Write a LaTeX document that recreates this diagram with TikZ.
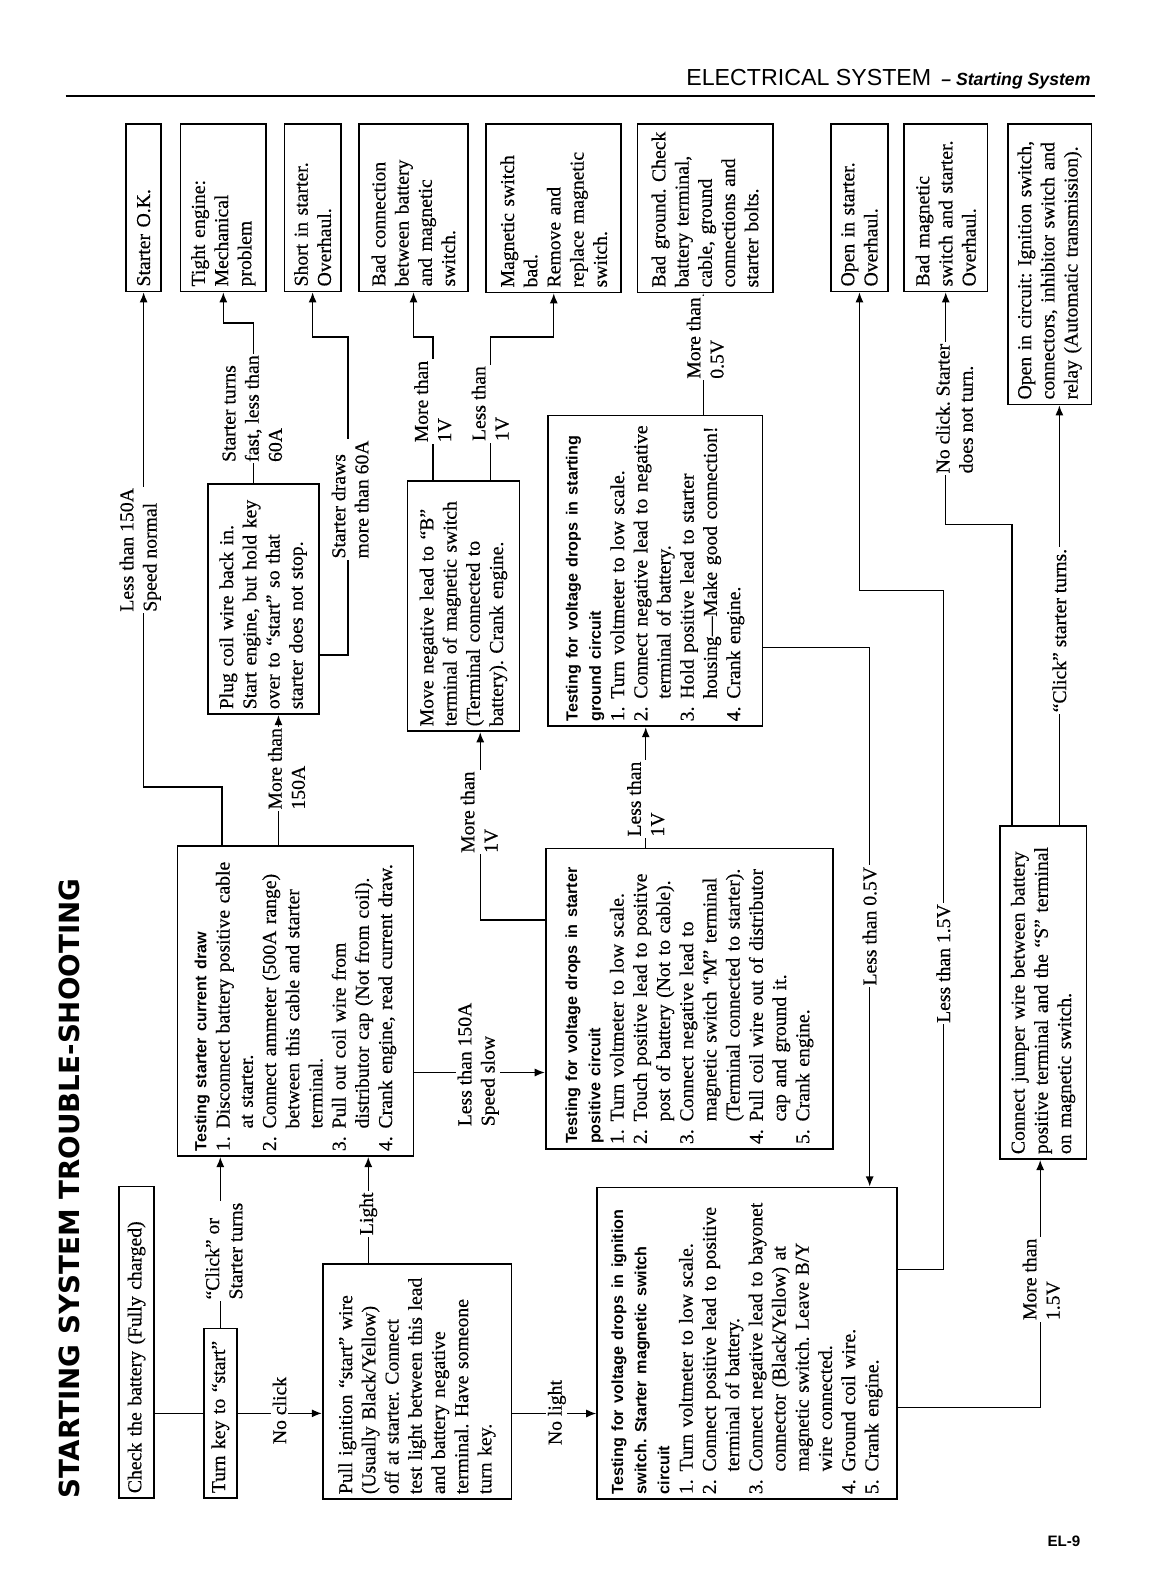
\documentclass[tikz,border=0pt]{standalone}
\usepackage{fontspec}
\setmainfont{Liberation Serif}[FakeBold=0.4]
\setsansfont{Liberation Sans}
\newfontfamily\titlefont{DejaVu Sans}
\usetikzlibrary{arrows.meta}

\newcommand\bodyfont{\frenchspacing\fontsize{19.5}{23}\selectfont}
\newcommand\headfont{\sffamily\bfseries\fontsize{16}{23}\selectfont}
\newcommand\itm[1]{\makebox[1.15em][l]{#1}}
\newcommand\indline{\hspace*{1.15em}}

\begin{document}
\begin{tikzpicture}[
  x=1pt, y=-1pt,
  box/.style={draw, line width=1.7pt, rotate=90, anchor=north east, align=left,
    inner xsep=5pt, inner ysep=2pt, font=\bodyfont},
  lbl/.style={rotate=90, fill=white, align=left, inner sep=1.5pt, font=\bodyfont},
  wire/.style={line width=1.4pt},
  arrow/.style={wire, -{Latex[length=10pt,width=8pt]}}
]
\useasboundingbox (0,0) rectangle (1152,1568);
\fill[white] (0,0) rectangle (1152,1568);

% page heading
\node[anchor=base west, inner sep=0pt, font=\sffamily\fontsize{23}{23}\selectfont] (header) at (680,85)
  {ELECTRICAL SYSTEM\hspace{10pt}{\bfseries\itshape\fontsize{17.5}{17.5}\selectfont -- Starting System}};
\draw[line width=2.5pt] (65,95) -- (1085,95);
\node[rotate=90, anchor=base west, inner sep=0pt, font=\titlefont\bfseries\fontsize{27.5}{27.5}\selectfont] (title) at (79,1485)
  {STARTING SYSTEM TROUBLE-SHOOTING};
\node[anchor=base east, inner sep=0pt, font=\sffamily\bfseries\fontsize{15}{15}\selectfont] (pageno) at (1071,1533) {EL-9};

% test steps
\node[box, text width=299pt, minimum height=35pt] (check) at (117,1175) {Check the battery (Fully charged)};
\node[box, text width=158pt, minimum height=33pt] (turnkey) at (201,1316) {Turn key to “start”};
\node[box, text width=297pt, minimum height=234pt] (current) at (175,838)
  {{\headfont Testing starter current draw}\\
   \itm{1.}Disconnect battery positive cable\\
   \indline at starter.\\
   \itm{2.}Connect ammeter (500A range)\\
   \indline between this cable and starter\\
   \indline terminal.\\
   \itm{3.}Pull out coil wire from\\
   \indline distributor cap (Not from coil).\\
   \itm{4.}Crank engine, read current draw.};
\node[box, text width=223pt, minimum height=187pt] (ignition) at (319,1252)
  {Pull ignition “start” wire\\
   (Usually Black/Yellow)\\
   off at starter. Connect\\
   test light between this lead\\
   and battery negative\\
   terminal. Have someone\\
   turn key.};
\node[box, text width=288pt, minimum height=285pt] (positive) at (540,840)
  {{\headfont Testing for voltage drops in starter}\\
   {\headfont positive circuit}\\
   \itm{1.}Turn voltmeter to low scale.\\
   \itm{2.}Touch positive lead to positive\\
   \indline post of battery (Not to cable).\\
   \itm{3.}Connect negative lead to\\
   \indline magnetic switch “M” terminal\\
   \indline (Terminal connected to starter).\\
   \itm{4.}Pull coil wire out of distributor\\
   \indline cap and ground it.\\
   \itm{5.}Crank engine.};
\node[box, text width=299pt, minimum height=297pt] (ignsw) at (591,1176)
  {{\headfont Testing for voltage drops in ignition}\\
   {\headfont switch. Starter magnetic switch}\\
   {\headfont circuit}\\
   \itm{1.}Turn voltmeter to low scale.\\
   \itm{2.}Connect positive lead to positive\\
   \indline terminal of battery.\\
   \itm{3.}Connect negative lead to bayonet\\
   \indline connector (Black/Yellow) at\\
   \indline magnetic switch. Leave B/Y\\
   \indline wire connected.\\
   \itm{4.}Ground coil wire.\\
   \itm{5.}Crank engine.};
\node[box, text width=298pt, minimum height=213pt] (ground) at (542,411)
  {{\headfont Testing for voltage drops in starting}\\
   {\headfont ground circuit}\\
   \itm{1.}Turn voltmeter to low scale.\\
   \itm{2.}Connect negative lead to negative\\
   \indline terminal of battery.\\
   \itm{3.}Hold positive lead to starter\\
   \indline housing---Make good connection!\\
   \itm{4.}Crank engine.};
\node[box, text width=320pt, minimum height=86pt] (jumper) at (990,818)
  {Connect jumper wire between battery\\
   positive terminal and the “S” terminal\\
   on magnetic switch.};
\node[box, text width=218pt, minimum height=110pt] (plug) at (205,479)
  {Plug coil wire back in.\\
   Start engine, but hold key\\
   over to “start” so that\\
   starter does not stop.};
\node[box, text width=238pt, minimum height=111pt] (moveneg) at (403,476)
  {Move negative lead to “B”\\
   terminal of magnetic switch\\
   (Terminal connected to\\
   battery). Crank engine.};

% results
\node[box, text width=156pt, minimum height=35pt] (ok) at (124,122) {Starter O.K.};
\node[box, text width=156pt, minimum height=85pt] (tight) at (178,122) {Tight engine:\\ Mechanical\\ problem};
\node[box, text width=156pt, minimum height=56pt] (short) at (281,122) {Short in starter.\\ Overhaul.};
\node[box, text width=156pt, minimum height=108pt] (badconn) at (355,122)
  {Bad connection\\ between battery\\ and magnetic\\ switch.};
\node[box, text width=157pt, minimum height=134pt] (magsw) at (481,122)
  {Magnetic switch\\ bad.\\ Remove and\\ replace magnetic\\ switch.};
\node[box, text width=157pt, minimum height=134pt] (badgnd) at (631,122)
  {Bad ground. Check\\ battery terminal,\\ cable, ground\\ connections and\\ starter bolts.};
\node[box, text width=156pt, minimum height=56pt] (openst) at (823,122) {Open in starter.\\ Overhaul.};
\node[box, text width=156pt, minimum height=83pt] (badmag) at (895,122)
  {Bad magnetic\\ switch and starter.\\ Overhaul.};
\node[box, text width=268pt, minimum height=83pt] (opencirc) at (998,122)
  {Open in circuit: Ignition switch,\\ connectors, inhibitor switch and\\ relay (Automatic transmission).};

% connectors
\draw[wire] (turnkey.north -| check.south) -- (turnkey.north);
\draw[arrow] (turnkey.south) -- (turnkey.south -| ignition.north);
\draw[arrow] (turnkey.east) -- (turnkey.east |- current.west);
\draw[arrow] (ignition.east -| 365,0) -- (current.west -| 365,0);
\draw[arrow] (ignition.south |- 0,1401) -- (ignsw.north |- 0,1401);
\draw[arrow] (current.east -| 220,0) -- (220,780) -| (ok.west);
\draw[arrow] (current.east -| 276,0) -- (plug.west -| 276,0);
\draw[arrow] (current.south |- 0,1063) -- (positive.north |- 0,1063);
\draw[arrow] (plug.east -| 251,0) -- (251,320) -| (tight.west);
\draw[arrow] (plug.south |- 0,649) -| (345,334) -| (short.west);
\draw[arrow] (moveneg.east -| 429,0) -- (429,334) -| (badconn.west);
\draw[arrow] (moveneg.east -| 486,0) -- (486,334) -| (magsw.west);
\draw[arrow] (positive.north |- 0,912) -| (moveneg.west -| 476,0);
\draw[arrow] (positive.east -| 640,0) -- (ground.west -| 640,0);
\draw[arrow] (ground.east -| 697,0) -- (badgnd.west -| 697,0);
\draw[arrow] (ground.south |- 0,642) -| (ignsw.east -| 862,0);
\draw[arrow] (ignsw.south |- 0,1258) -| (935,585) -| (openst.west);
\draw[arrow] (ignsw.south |- 0,1395) -| (jumper.west -| 1031,0);
\draw[arrow] (jumper.east -| 1003,0) -- (1003,520) -| (badmag.west);
\draw[arrow] (jumper.east -| 1050,0) -- (opencirc.west -| 1050,0);

% connector labels
\node[lbl] (noclick) at (277,1398) {No click};
\node[lbl] (clickor) at (222,1240) {“Click” or\\Starter turns};
\node[lbl] (light) at (365,1203) {Light};
\node[lbl] (nolight) at (552,1400) {No light};
\node[lbl] (normal) at (139,545) {Less than 150A\\Speed normal};
\node[lbl] (over150) at (284,762) {More than\\150A};
\node[lbl] (slow) at (474,1055) {Less than 150A\\Speed slow};
\node[lbl] (fast) at (250,405) {Starter turns\\fast, less than\\60A};
\node[lbl] (draws) at (347,495) {Starter draws\\more than 60A};
\node[lbl] (over1a) at (429,398) {More than\\1V};
\node[lbl] (under1a) at (486,400) {Less than\\1V};
\node[lbl] (over1b) at (475,805) {More than\\1V};
\node[lbl] (under1b) at (640,792) {Less than\\1V};
\node[lbl] (over05) at (699,335) {More than\\0.5V};
\node[lbl] (under05) at (862,918) {Less than 0.5V};
\node[lbl] (under15) at (935,955) {Less than 1.5V};
\node[lbl] (over15) at (1032,1268) {More than\\1.5V};
\node[lbl] (noturn) at (946,405) {No click. Starter\\does not turn.};
\node[lbl] (clickturns) at (1050,625) {“Click” starter turns.};
\end{tikzpicture}
\end{document}
